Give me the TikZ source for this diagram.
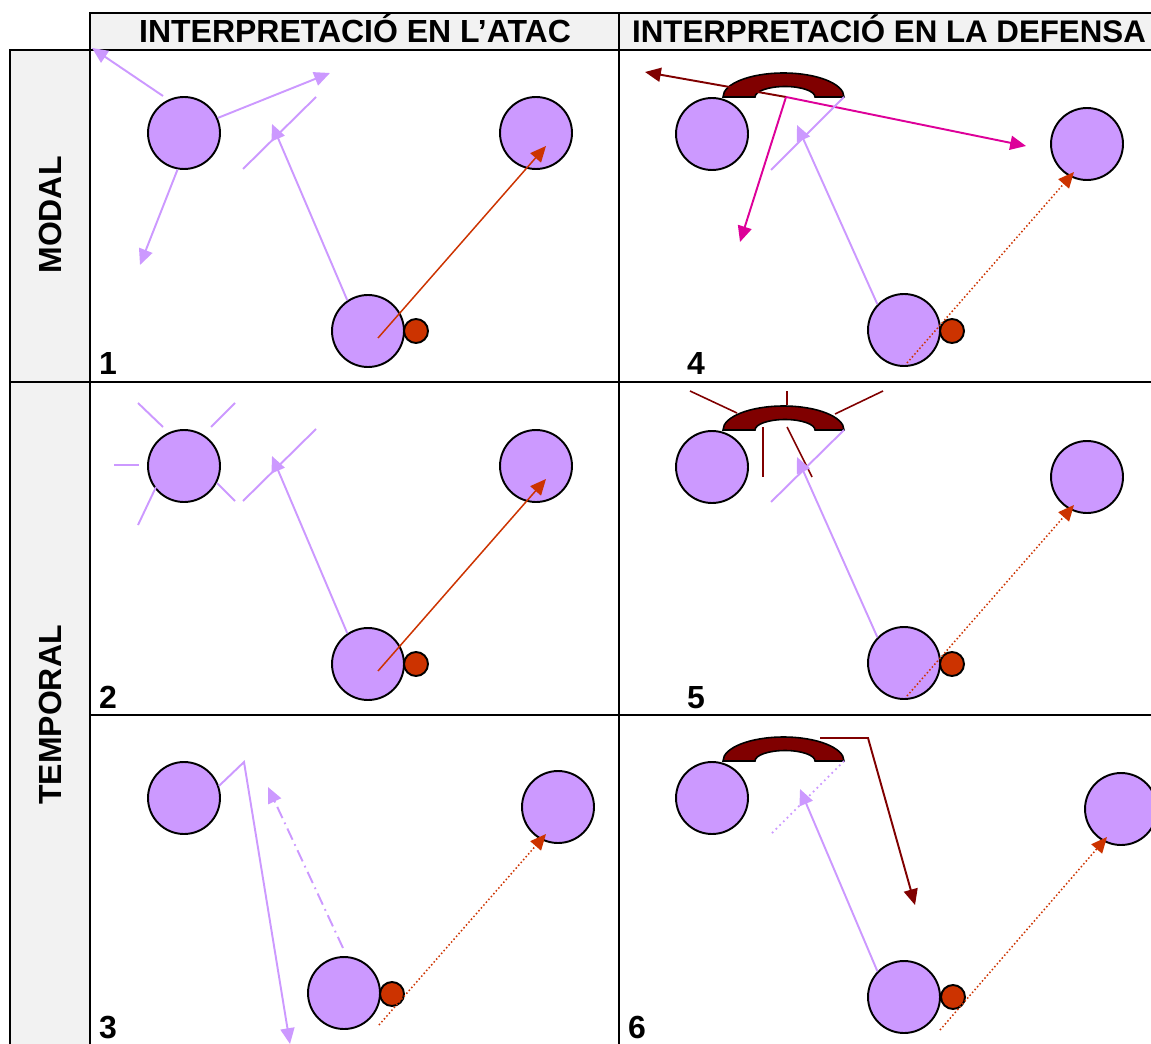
\documentclass[tikz,border=0pt]{standalone}
\usepackage{fontspec}
\setmainfont{Liberation Sans}
\usetikzlibrary{arrows.meta}
\definecolor{lav}{HTML}{CC99FF}
\definecolor{ballred}{HTML}{CC3300}
\definecolor{dred}{HTML}{800000}
\definecolor{mag}{HTML}{DD0099}
\definecolor{hdr}{HTML}{F2F2F2}
\begin{document}
\begin{tikzpicture}[x=0.02cm,y=-0.02cm,
  player/.style={circle,draw=black,line width=1.1pt,fill=lav,minimum size=1.44cm,inner sep=0pt},
  ball/.style={circle,draw=black,line width=1.1pt,fill=ballred,minimum size=0.48cm,inner sep=0pt},
  tip/.style={-{Triangle[length=9pt,width=8pt]}},
  lavline/.style={draw=lav,line width=1.1pt},
  lavarrow/.style={lavline,tip},
  redarrow/.style={draw=ballred,line width=0.85pt,tip},
  reddots/.style={draw=ballred,line width=0.85pt,dash pattern=on 0.85pt off 1.3pt,tip},
  dredline/.style={draw=dred,line width=0.9pt},
  dredarrow/.style={draw=dred,line width=1.1pt,tip},
  magarrow/.style={draw=mag,line width=1.1pt,tip},
  lbl/.style={font=\fontsize{18.2}{21}\selectfont\bfseries,inner sep=0pt},
  grid/.style={line width=1.2pt},
  phone/.pic={\draw[fill=dred,draw=black,line width=0.9pt]
     (-60.5,0) arc[start angle=180,end angle=0,x radius=1.21cm,y radius=0.48cm]
     -- (31.5,0) arc[start angle=0,end angle=180,x radius=0.6cm,y radius=0.21cm] -- cycle;}
]
\useasboundingbox (0,0) rectangle (1151,1043);
\clip (0,0) rectangle (1151,1043);
% table
\fill[hdr] (90,13) rectangle (1160,50);
\fill[hdr] (10,50) rectangle (90,1060);
\draw[grid] (90,1060) -- (90,13) -- (1160,13);
\draw[grid] (10,1060) -- (10,50) -- (1160,50);
\draw[grid] (619,13) -- (619,1060);
\draw[line width=1pt] (90,382) -- (1160,382);
\draw[line width=1pt] (90,715) -- (1160,715);
\draw[line width=0.6pt] (10,382) -- (90,382);
\node[lbl,anchor=base] (h1) at (355,43) {INTERPRETACIÓ EN L’ATAC};
\node[lbl,font=\fontsize{17.8}{21}\selectfont\bfseries,anchor=base] (h2) at (889,43) {INTERPRETACIÓ EN LA DEFENSA};
\node[lbl,rotate=90] (r1) at (50,215) {MODAL};
\node[lbl,rotate=90] (r2) at (50,715) {TEMPORAL};
\node[lbl,anchor=base] (n1) at (108,375) {1};
\node[lbl,anchor=base] (n4) at (696,375) {4};
\node[lbl,anchor=base] (n2) at (108,708) {2};
\node[lbl,anchor=base] (n5) at (696,708) {5};
\node[lbl,anchor=base] (n3) at (108,1038) {3};
\node[lbl,anchor=base] (n6) at (637,1038) {6};

% ---------- cell 1
\node[player] (p1a) at (184,133) {};
\node[player] (p1b) at (536,133) {};
\node[player] (p1c) at (368,331) {};
\node[ball] (b1) at (416,331) {};
\coordinate (c1s) at (163,96); \coordinate (c1t) at (92,48);
\coordinate (c1u) at (330,73); \coordinate (c1v) at (140,265);
\coordinate (c1w) at (243,169); \coordinate (c1x) at (316,97);
\coordinate (c1y) at (272,124);
\coordinate (c1r) at (378,338); \coordinate (c1q) at (546,146);
\draw[lavarrow] (c1s) -- (c1t);
\draw[lavarrow] (p1a.24) -- (c1u);
\draw[lavarrow] (p1a.260) -- (c1v);
\draw[lavline] (c1w) -- (c1x);
\draw[lavarrow] (p1c.124) -- (c1y);
\draw[redarrow] (c1r) -- (c1q);

% ---------- cell 2
\node[player] (p2a) at (184,466) {};
\node[player] (p2b) at (536,466) {};
\node[player] (p2c) at (368,664) {};
\node[ball] (b2) at (416,664) {};
\draw[lavline] (138,403) -- (163,427);
\draw[lavline] (211,427) -- (235,403);
\draw[lavline] (114,465) -- (139,465);
\draw[lavline] (156,487) -- (138,525);
\draw[lavline] (217,483) -- (235,501);
\coordinate (c2w) at (243,501); \coordinate (c2x) at (316,429);
\coordinate (c2y) at (272,456);
\coordinate (c2r) at (378,671); \coordinate (c2q) at (546,479);
\draw[lavline] (c2w) -- (c2x);
\draw[lavarrow] (p2c.124) -- (c2y);
\draw[redarrow] (c2r) -- (c2q);

% ---------- cell 3
\node[player] (p3a) at (184,798) {};
\node[player] (p3b) at (558,807) {};
\node[player] (p3c) at (344,993) {};
\node[ball] (b3) at (392,994) {};
\coordinate (c3k) at (244,762); \coordinate (c3t) at (290,1044);
\coordinate (c3s) at (343,948); \coordinate (c3y) at (268,787);
\coordinate (c3r) at (379,1025); \coordinate (c3q) at (546,834);
\draw[lavarrow] (p3a.19) -- (c3k) -- (c3t);
\draw[lavarrow,dash pattern=on 7pt off 2.8pt on 1pt off 2.8pt] (c3s) -- (c3y);
\draw[reddots] (c3r) -- (c3q);

% ---------- cell 4
\node[player] (p4a) at (712,134) {};
\node[player] (p4b) at (1087,144) {};
\node[player] (p4c) at (904,330) {};
\node[ball] (b4) at (952,331) {};
\pic at (783.5,97) {phone};
\coordinate (k4) at (786,97);
\coordinate (c4l) at (645,72); \coordinate (c4m) at (1026,146); \coordinate (c4n) at (740,242);
\coordinate (c4w) at (844,97); \coordinate (c4x) at (771,170);
\coordinate (c4y) at (797,125);
\coordinate (c4r) at (907,363); \coordinate (c4q) at (1074,172);
\draw[dredarrow] (k4) -- (c4l);
\draw[magarrow] (k4) -- (c4m);
\draw[magarrow] (k4) -- (c4n);
\draw[lavline] (c4w) -- (c4x);
\draw[lavarrow] (p4c.136) -- (c4y);
\draw[reddots] (c4r) -- (c4q);

% ---------- cell 5
\node[player] (p5a) at (712,467) {};
\node[player] (p5b) at (1087,477) {};
\node[player] (p5c) at (904,663) {};
\node[ball] (b5) at (952,664) {};
\pic at (783.5,430) {phone};
\draw[dredline] (690,391) -- (737,413);
\draw[dredline] (787,391) -- (787,405);
\draw[dredline] (835,414) -- (883,391);
\draw[dredline] (763,427) -- (763,477);
\draw[dredline] (787,427) -- (812,477);
\coordinate (c5w) at (844,430); \coordinate (c5x) at (771,502);
\coordinate (c5y) at (797,457);
\coordinate (c5r) at (907,696); \coordinate (c5q) at (1074,505);
\draw[lavline] (c5w) -- (c5x);
\draw[lavarrow] (p5c.136) -- (c5y);
\draw[reddots] (c5r) -- (c5q);

% ---------- cell 6
\node[player] (p6a) at (712,798) {};
\node[player] (p6b) at (1121,809) {};
\node[player] (p6c) at (904,997) {};
\node[ball] (b6) at (953,997) {};
\pic at (783.5,761) {phone};
\coordinate (c6a) at (820,738); \coordinate (c6b) at (868,738); \coordinate (c6c) at (915,905);
\coordinate (c6w) at (844,761); \coordinate (c6x) at (771,834);
\coordinate (c6y) at (800,789);
\coordinate (c6r) at (940,1030); \coordinate (c6q) at (1107,837);
\draw[dredarrow] (c6a) -- (c6b) -- (c6c);
\draw[lavline,line width=1pt,dash pattern=on 1pt off 2pt] (c6w) -- (c6x);
\draw[lavarrow] (p6c.136) -- (c6y);
\draw[reddots] (c6r) -- (c6q);
\end{tikzpicture}
\end{document}
